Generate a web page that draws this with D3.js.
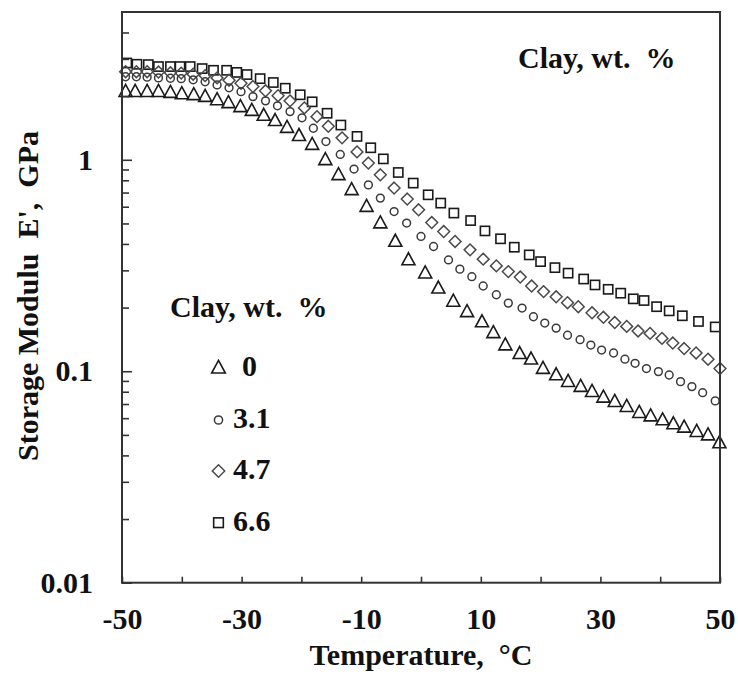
<!DOCTYPE html>
<html>
<head>
<meta charset="utf-8">
<script src="https://cdn.jsdelivr.net/npm/d3@7"></script>
<style>
  html, body { margin: 0; padding: 0; background: #fff; }
  svg text { font-family: "Liberation Serif", "Times New Roman", serif; font-weight: bold; fill: #111; white-space: pre; }
</style>
</head>
<body>
<svg id="chart" width="738" height="677"></svg>
<script>
// ---- Data ----
const clayLevels = ["0", "3.1", "4.7", "6.6"];
const legendTitle = "Clay, wt.  %";
const xTitle = "Temperature,  °C";
const yTitle = "Storage Modulu  E',  GPa";
const xTickValues = [-50, -40, -30, -20, -10, 0, 10, 20, 30, 40, 50];
const xTickLabels = [-50, -30, -10, 10, 30, 50];
const yMajorTicks = [0.01, 0.1, 1];
const yMinorTicks = [0.02,0.03,0.04,0.05,0.06,0.07,0.08,0.09,0.2,0.3,0.4,0.5,0.6,0.7,0.8,0.9,2,3,4];

// Clay 0 wt.% (triangles)
const tempClay0 = [-49.4,-47.8,-45.8,-43.9,-41.9,-40.0,-38.0,-36.1,-34.1,-32.2,-30.2,-28.3,-26.3,-24.4,-22.4,-20.4,-18.2,-16.0,-13.8,-11.6,-9.1,-6.8,-4.3,-2.1,0.7,2.9,5.4,7.7,10.2,12.1,14.1,16.5,18.4,20.4,22.6,24.6,26.7,28.6,30.5,32.4,34.4,36.5,38.4,40.4,42.2,44.0,46.1,48.0,49.9];
const modClay0 = [2.10,2.10,2.10,2.10,2.08,2.05,2.03,1.99,1.92,1.86,1.78,1.71,1.62,1.53,1.42,1.30,1.18,1.00,0.849,0.721,0.601,0.502,0.411,0.336,0.291,0.247,0.214,0.191,0.171,0.152,0.133,0.121,0.114,0.103,0.0960,0.0893,0.0846,0.0801,0.0753,0.0718,0.0680,0.0637,0.0614,0.0588,0.0563,0.0543,0.0518,0.0499,0.0458];

// Clay 3.1 wt.% (circles)
const tempClay31 = [-49.4,-47.6,-45.8,-43.9,-41.9,-40.1,-38.1,-36.1,-34.1,-32.1,-30.1,-28.1,-26.0,-24.0,-21.9,-19.9,-18.0,-15.9,-13.5,-11.2,-8.8,-6.8,-4.5,-2.4,0.0,2.1,4.6,6.5,8.5,10.4,12.6,14.6,16.9,18.8,20.7,22.6,24.5,26.6,28.4,30.2,32.2,34.1,35.8,37.7,39.7,41.5,43.4,45.3,47.1,49.2];
const modClay31 = [2.47,2.47,2.46,2.44,2.43,2.42,2.39,2.34,2.26,2.19,2.10,1.99,1.90,1.80,1.69,1.58,1.41,1.22,1.06,0.904,0.761,0.659,0.569,0.502,0.434,0.389,0.336,0.304,0.280,0.253,0.230,0.210,0.199,0.181,0.169,0.160,0.148,0.141,0.133,0.126,0.122,0.114,0.109,0.103,0.0996,0.0960,0.0893,0.0846,0.0792,0.0724];

// Clay 4.7 wt.% (diamonds)
const tempClay47 = [-49.4,-47.6,-45.8,-43.9,-41.9,-40.1,-38.1,-36.1,-34.1,-32.1,-30.1,-28.1,-26.0,-23.9,-21.9,-19.5,-17.4,-15.5,-13.2,-10.7,-8.8,-6.8,-4.5,-2.3,-0.4,1.8,3.8,5.7,8.2,10.4,12.6,14.6,16.6,18.5,20.5,22.6,24.5,26.3,28.6,30.5,32.4,34.4,36.3,38.3,40.3,42.1,44.0,46.0,48.0,50.0];
const modClay47 = [2.61,2.61,2.61,2.60,2.58,2.57,2.54,2.50,2.44,2.38,2.30,2.22,2.12,2.01,1.90,1.76,1.60,1.44,1.27,1.09,0.965,0.849,0.735,0.652,0.580,0.505,0.458,0.411,0.375,0.339,0.315,0.296,0.279,0.253,0.238,0.225,0.211,0.202,0.189,0.180,0.170,0.163,0.155,0.151,0.143,0.136,0.128,0.122,0.114,0.103];

// Clay 6.6 wt.% (squares)
const tempClay66 = [-49.2,-47.5,-45.6,-43.9,-41.9,-40.3,-38.6,-36.6,-34.7,-32.5,-30.8,-29.1,-26.9,-24.7,-22.7,-20.2,-18.2,-15.7,-13.4,-10.7,-8.4,-6.3,-3.8,-1.3,1.2,3.3,5.5,8.3,10.7,13.3,15.6,18.1,20.0,22.4,24.6,27.2,29.1,31.3,33.4,35.5,37.3,39.4,41.5,43.7,46.4,49.2];
const modClay66 = [2.87,2.83,2.82,2.76,2.76,2.76,2.76,2.70,2.65,2.65,2.59,2.53,2.42,2.32,2.18,2.03,1.88,1.66,1.46,1.29,1.14,1.01,0.871,0.776,0.683,0.624,0.560,0.516,0.461,0.423,0.386,0.355,0.330,0.309,0.291,0.273,0.256,0.244,0.234,0.220,0.216,0.202,0.193,0.183,0.172,0.162];

// ---- Chart ----
const svg = d3.select("#chart");
const pLeft = 122, pRight = 720, pTop = 12, pBottom = 582.7;
const x = d3.scaleLinear().domain([-50, 50]).range([pLeft, pRight]);
const y = d3.scaleLog().domain([0.01, 5]).range([pBottom, pTop]);
const ink = "#333";
const fontSize = 30;

const series = [
  { name: clayLevels[0], temps: tempClay0, vals: modClay0, shape: "triangle" },
  { name: clayLevels[1], temps: tempClay31, vals: modClay31, shape: "circle" },
  { name: clayLevels[2], temps: tempClay47, vals: modClay47, shape: "diamond" },
  { name: clayLevels[3], temps: tempClay66, vals: modClay66, shape: "square" }
];

function drawMarker(g, shape, cx, cy, scale) {
  const s = scale || 1;
  if (shape === "triangle") {
    const w = 6.5 * s, h = 12 * s;
    g.append("path").attr("d", `M${cx},${cy - h * 0.6} L${cx + w},${cy + h * 0.4} L${cx - w},${cy + h * 0.4} Z`)
      .attr("fill", "none").attr("stroke", "#1a1a1a").attr("stroke-width", 1.6);
  } else if (shape === "circle") {
    g.append("circle").attr("cx", cx).attr("cy", cy).attr("r", 3.9 * s)
      .attr("fill", "none").attr("stroke", "#3a3a3a").attr("stroke-width", 1.5);
  } else if (shape === "diamond") {
    const r = 5.9 * s;
    g.append("path").attr("d", `M${cx},${cy - r} L${cx + r},${cy} L${cx},${cy + r} L${cx - r},${cy} Z`)
      .attr("fill", "none").attr("stroke", "#4a4a4a").attr("stroke-width", 1.5);
  } else {
    const r = 4.6 * s;
    g.append("rect").attr("x", cx - r).attr("y", cy - r).attr("width", 2 * r).attr("height", 2 * r)
      .attr("fill", "none").attr("stroke", "#1a1a1a").attr("stroke-width", 1.6);
  }
}

// Markers
const markG = svg.append("g");
series.slice().reverse().forEach(s => {
  s.temps.forEach((t, i) => drawMarker(markG, s.shape, x(t), y(s.vals[i]), 1));
});

// Frame
svg.append("rect").attr("x", pLeft).attr("y", pTop).attr("width", pRight - pLeft).attr("height", pBottom - pTop)
  .attr("fill", "none").attr("stroke", ink).attr("stroke-width", 2);

// Y axis major
const yMajor = svg.append("g").attr("transform", `translate(${pLeft},0)`)
  .call(d3.axisLeft(y).tickValues(yMajorTicks).tickSize(-10).tickPadding(29)
    .tickFormat(d => d === 1 ? "1" : d3.format("")(d)));
const yMinor = svg.append("g").attr("transform", `translate(${pLeft},0)`)
  .call(d3.axisLeft(y).tickValues(yMinorTicks).tickSize(-7).tickFormat(""));
[yMajor, yMinor].forEach(g => {
  g.select(".domain").remove();
  g.selectAll(".tick line").attr("stroke", ink).attr("stroke-width", 1.6);
});
yMajor.selectAll("text").attr("font-size", fontSize).attr("dy", "0.32em")
  .attr("font-family", null);

// X axis
const xAxis = svg.append("g").attr("transform", `translate(0,${pBottom})`)
  .call(d3.axisBottom(x).tickValues(xTickValues).tickSize(-6).tickPadding(25)
    .tickFormat(d => xTickLabels.includes(d) ? String(d) : ""));
xAxis.select(".domain").remove();
xAxis.selectAll(".tick line").attr("stroke", ink).attr("stroke-width", 1.6);
xAxis.selectAll("text").attr("font-size", fontSize).attr("font-family", null);

// Axis titles
svg.append("text").attr("x", (pLeft + pRight) / 2).attr("y", 665).attr("text-anchor", "middle")
  .attr("font-size", fontSize).text(xTitle);
svg.append("text").attr("transform", `translate(38,296) rotate(-90)`).attr("text-anchor", "middle")
  .attr("font-size", fontSize).text(yTitle);

// Top-right label
svg.append("text").attr("x", 518).attr("y", 68).attr("font-size", fontSize).text(legendTitle);

// Legend
svg.append("text").attr("x", 170).attr("y", 317).attr("font-size", fontSize).text(legendTitle);
const legendY = [368, 420, 471, 522.7];
const legendLabelX = [242, 233, 233, 233];
series.forEach((s, i) => {
  drawMarker(svg, s.shape, 218.5, legendY[i], 1.05);
  svg.append("text").attr("x", legendLabelX[i]).attr("y", legendY[i] + 8)
    .attr("font-size", fontSize).text(s.name);
});
</script>
</body>
</html>
